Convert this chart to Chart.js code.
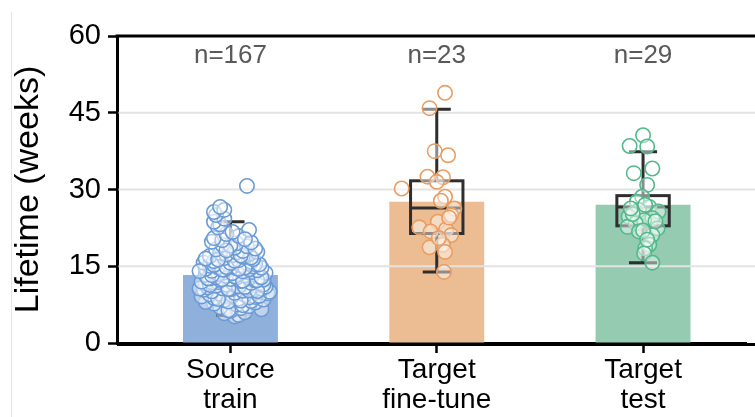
<!DOCTYPE html>
<html>
<head>
<meta charset="utf-8">
<script src="https://cdn.jsdelivr.net/npm/chart.js@4/dist/chart.umd.min.js"></script>
<style>
  html, body { margin: 0; padding: 0; background: #fff; overflow: hidden; }
  #wrap { width: 755px; height: 417px; position: relative; }
</style>
</head>
<body>
<div id="wrap"><canvas id="chart"></canvas></div>
<script>
// ── Dados ─────────────────────────────────────────────────────────────────────
const groupLabels = [['Source', 'train'], ['Target', 'fine-tune'], ['Target', 'test']];
const yTicks      = [0, 15, 30, 45, 60];
const gridValues  = [15, 30, 45];

// média de cada grupo (altura das barras)
const meanLifetime = [13.3, 27.6, 27.0];

// estatísticas do boxplot
const boxLow    = [5.4, 13.9, 15.7];
const boxQ1     = [10.3, 21.4, 22.9];
const boxMedian = [13.0, 26.4, 26.6];
const boxQ3     = [15.9, 31.7, 28.8];
const boxHigh   = [23.7, 45.7, 37.4];

// pontos individuais (semanas) e deslocamento horizontal de cada um
const sourceLifetime = [
  5.2, 5.5, 5.8, 6.0, 6.3, 6.6, 6.8, 7.0, 7.2, 7.5, 7.7, 7.9, 7.4, 6.4,
  8.0, 8.2, 8.4, 8.5, 8.7, 8.8, 9.0, 9.1, 9.3, 9.4, 9.6, 9.7, 9.9, 8.1, 8.9, 9.5, 8.3, 8.6, 9.2, 9.8,
  10.0, 10.1, 10.2, 10.3, 10.4, 10.5, 10.6, 10.7, 10.8, 10.9, 11.0, 11.1, 11.2, 11.3, 11.4,
  11.5, 11.6, 11.7, 11.8, 11.9, 10.25, 10.65, 11.05, 11.45, 11.85, 10.15, 10.55, 10.95, 11.35, 11.75,
  12.0, 12.1, 12.2, 12.3, 12.4, 12.5, 12.6, 12.7, 12.8, 12.9, 13.0, 13.1, 13.2, 13.3, 13.4,
  13.5, 13.6, 13.7, 13.8, 13.9, 12.25, 12.65, 13.05, 13.45, 13.85, 12.15, 12.45, 12.85, 13.25, 13.65,
  14.0, 14.1, 14.2, 14.3, 14.4, 14.5, 14.6, 14.7, 14.8, 14.9, 15.0, 15.1, 15.2, 15.3,
  15.4, 15.5, 15.6, 15.7, 15.8, 15.9, 14.35, 14.75, 15.25, 14.05, 14.45, 14.85, 15.35, 15.65,
  16.0, 16.2, 16.4, 16.6, 16.8, 17.0, 17.2, 17.4, 17.6, 17.8, 16.1, 16.5, 16.9, 17.3, 17.7, 16.3, 16.7, 17.1,
  18.0, 18.3, 18.6, 18.9, 19.2, 19.5, 19.8, 18.45, 19.05, 19.65, 18.1,
  20.1, 20.5, 20.9, 21.3, 21.7, 22.1, 22.6, 20.3,
  23.2, 23.7, 24.3, 25.0, 25.6, 26.0, 26.6, 30.7,
];
const sourceJitter = [
  0.02, 0.04, -0.03, 0.07, 0.00, 0.15, 0.05, -0.05, 0.09, 0.03, -0.08, 0.12, 0.06, -0.01,
  -0.12, 0.10, -0.03, 0.16, 0.04, -0.08, 0.12, -0.14, 0.01, 0.07, -0.05, 0.18, 0.13, -0.01, 0.09, -0.10, 0.05, -0.06, 0.14, 0.02,
  0.19, -0.09, 0.06, 0.11, -0.13, 0.00, 0.15, -0.04, 0.08, -0.11, 0.17, 0.03, -0.07, 0.12, -0.02,
  0.06, -0.12, 0.14, 0.01, -0.06, 0.09, -0.15, 0.04, 0.16, -0.09, 0.13, -0.01, 0.07, -0.10, 0.10,
  -0.14, 0.05, 0.12, -0.05, 0.16, 0.00, -0.10, 0.09, 0.03, -0.07, 0.14, -0.02, 0.07, -0.12, 0.11,
  0.04, -0.08, 0.17, -0.03, 0.08, 0.13, -0.11, 0.02, -0.06, 0.10, 0.06, -0.04, 0.15, -0.09, 0.01,
  0.06, -0.09, 0.13, -0.03, 0.09, -0.12, 0.03, 0.15, -0.06, 0.01, 0.11, -0.10, 0.05, -0.01,
  0.12, -0.07, 0.08, -0.13, 0.02, 0.10, -0.04, 0.07, -0.08, -0.15, 0.04, -0.02, 0.14, 0.00,
  -0.08, 0.04, 0.11, -0.03, 0.07, -0.10, 0.01, 0.09, -0.05, 0.13, 0.02, -0.12, 0.06, -0.02, 0.03, -0.06, 0.10, 0.05,
  0.06, -0.07, 0.02, 0.08, -0.04, 0.03, -0.09, 0.12, 0.00, 0.10, -0.02,
  -0.04, -0.08, 0.04, -0.02, 0.01, 0.09, -0.06, 0.07,
  -0.05, -0.08, -0.03, -0.07, -0.08, -0.03, -0.05, 0.08,
];

const finetuneLifetime = [
  48.9, 45.9, 37.5, 36.7, 32.5, 32.4, 31.5, 30.2, 28.6, 27.8, 26.3, 25.0,
  23.7, 22.6, 21.8, 22.2, 21.1, 18.7, 19.2, 17.8, 13.9, 24.5, 20.5,
];
const finetuneJitter = [
  0.04, -0.035, -0.01, 0.055, -0.045, 0.03, 0.0, -0.17, 0.04, 0.02, 0.085, 0.07,
  0.005, -0.085, -0.03, 0.045, 0.07, -0.035, 0.03, 0.04, 0.035, 0.06, 0.01,
];

const testLifetime = [
  40.6, 38.5, 38.4, 34.1, 33.2, 30.9, 28.6, 27.6, 26.6, 26.0, 25.7, 24.7, 24.4, 24.0, 23.4,
  22.7, 22.4, 21.8, 21.1, 19.2, 18.5, 17.5, 15.7, 27.0, 25.2, 23.8, 22.0, 26.3, 20.2,
];
const testJitter = [
  0.0, -0.065, 0.02, 0.045, -0.045, 0.02, -0.005, -0.03, 0.03, -0.02, 0.075, -0.07, 0.045, 0.005, -0.035,
  -0.075, 0.07, -0.02, 0.045, 0.03, 0.01, 0.005, 0.045, 0.01, -0.05, 0.06, 0.0, -0.06, 0.02,
];

// ── Estilo ────────────────────────────────────────────────────────────────────
const FONT      = "'Liberation Sans', Arial, sans-serif";
const barColors = ['#8eb0da', '#ecbd92', '#94cbb1'];
const dotColors = ['#6b9bd6', '#e99d62', '#52b98a'];

const groups = [
  { values: sourceLifetime,   jitter: sourceJitter },
  { values: finetuneLifetime, jitter: finetuneJitter },
  { values: testLifetime,     jitter: testJitter },
];

const scatterSets = groups.map((g, i) => ({
  type: 'scatter',
  order: 1,
  data: g.values.map((v, k) => ({ x: i + g.jitter[k], y: v })),
  pointRadius: 7.2,
  pointHoverRadius: 7.2,
  borderWidth: 1.6,
  borderColor: dotColors[i],
  backgroundColor: 'rgba(255,255,255,0.45)',
}));

// ── Plugin: grade, boxplots, rótulos n= e moldura ────────────────────────────
const overlay = {
  id: 'overlay',
  beforeDraw(chart) {
    const { ctx } = chart;
    ctx.save();
    ctx.strokeStyle = '#e6e6e6';
    ctx.lineWidth = 1;
    ctx.beginPath();
    ctx.moveTo(11.5, 12);
    ctx.lineTo(11.5, chart.height);
    ctx.stroke();
    ctx.restore();
  },
  afterDatasetDraw(chart, args) {
    if (args.index !== 0) return;
    const { ctx, chartArea: a, scales: { x, y } } = chart;
    ctx.save();
    // linhas de grade por cima das barras
    ctx.strokeStyle = '#e3e3e3';
    ctx.lineWidth = 2;
    gridValues.forEach(v => {
      const py = y.getPixelForValue(v);
      ctx.beginPath();
      ctx.moveTo(a.left + 1.5, py);
      ctx.lineTo(chart.width, py);
      ctx.stroke();
    });
    // boxplots
    ctx.strokeStyle = '#2e2e2e';
    ctx.lineWidth = 3;
    ctx.lineCap = 'butt';
    meanLifetime.forEach((_, i) => {
      const xl = x.getPixelForValue(i - 0.127);
      const xr = x.getPixelForValue(i + 0.127);
      const xc = x.getPixelForValue(i);
      const cl = x.getPixelForValue(i - 0.068);
      const cr = x.getPixelForValue(i + 0.068);
      const yLo = y.getPixelForValue(boxLow[i]);
      const yQ1 = y.getPixelForValue(boxQ1[i]);
      const yMd = y.getPixelForValue(boxMedian[i]);
      const yQ3 = y.getPixelForValue(boxQ3[i]);
      const yHi = y.getPixelForValue(boxHigh[i]);
      ctx.strokeRect(xl, yQ3, xr - xl, yQ1 - yQ3);
      ctx.beginPath();
      ctx.moveTo(xl, yMd); ctx.lineTo(xr, yMd);
      ctx.moveTo(xc, yQ3); ctx.lineTo(xc, yHi);
      ctx.moveTo(xc, yQ1); ctx.lineTo(xc, yLo);
      ctx.moveTo(cl, yHi); ctx.lineTo(cr, yHi);
      ctx.moveTo(cl, yLo); ctx.lineTo(cr, yLo);
      ctx.stroke();
    });
    ctx.restore();
  },
  afterDraw(chart) {
    const { ctx, chartArea: a, scales: { x, y } } = chart;
    ctx.save();
    // eixos: borda superior e prolongamento da base até a margem direita
    ctx.strokeStyle = '#000';
    ctx.lineWidth = 3;
    ctx.beginPath();
    ctx.moveTo(a.left - 1.5, a.top);
    ctx.lineTo(chart.width, a.top);
    ctx.moveTo(a.left, a.bottom + 1.5);
    ctx.lineTo(chart.width, a.bottom + 1.5);
    ctx.stroke();
    // n= por grupo
    ctx.fillStyle = '#595959';
    ctx.font = `26px ${FONT}`;
    ctx.textAlign = 'center';
    ctx.textBaseline = 'middle';
    groups.forEach((g, i) => {
      ctx.fillText('n=' + g.values.length, x.getPixelForValue(i), y.getPixelForValue(56.1));
    });
    ctx.restore();
  },
};

// ── Gráfico ───────────────────────────────────────────────────────────────────
new Chart(document.getElementById('chart'), {
  type: 'bar',
  data: {
    datasets: [
      {
        order: 2,
        data: meanLifetime.map((v, i) => ({ x: i, y: v })),
        backgroundColor: barColors,
        categoryPercentage: 1,
        barPercentage: 0.46,
      },
      ...scatterSets,
    ],
  },
  options: {
    responsive: true,
    maintainAspectRatio: false,
    animation: false,
    layout: { padding: { top: 36, left: 0, right: 0, bottom: 0 } },
    plugins: { legend: { display: false }, tooltip: { enabled: false } },
    scales: {
      x: {
        type: 'linear',
        offset: false,
        min: -0.55,
        max: 2.5,
        afterBuildTicks: s => { s.ticks = groupLabels.map((_, i) => ({ value: i })); },
        afterFit: s => { s.height = 74; },
        border: { color: '#000', width: 3 },
        grid: { offset: false, drawOnChartArea: false, drawTicks: true, tickLength: 10, tickWidth: 2.5, tickColor: '#000' },
        ticks: {
          color: '#000',
          padding: 3,
          maxRotation: 0,
          autoSkip: false,
          font: { family: FONT, size: 28, lineHeight: 1.05 },
          callback: v => groupLabels[v],
        },
      },
      y: {
        min: 0,
        max: 60,
        afterBuildTicks: s => { s.ticks = yTicks.map(v => ({ value: v })); },
        afterFit: s => { s.width = 117; },
        border: { color: '#000', width: 3 },
        grid: { drawOnChartArea: false, drawTicks: true, tickLength: 9, tickWidth: 2.5, tickColor: '#000' },
        ticks: {
          color: '#000',
          padding: 7,
          font: { family: FONT, size: 29 },
        },
        title: {
          display: true,
          text: 'Lifetime (weeks)',
          color: '#000',
          padding: { top: 8, bottom: 0 },
          font: { family: FONT, size: 34 },
        },
      },
    },
  },
  plugins: [overlay],
});
</script>
</body>
</html>
